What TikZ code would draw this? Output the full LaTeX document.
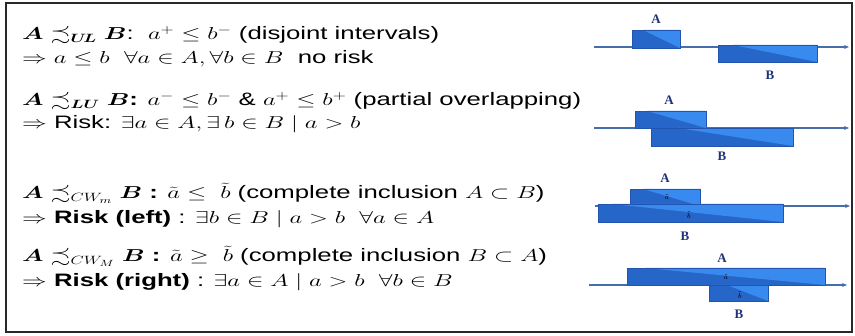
\documentclass[tikz,border=0pt]{standalone}
\usepackage{amsmath,amssymb,bm}
\usepackage{fontspec}
\setmainfont{Liberation Sans}
\newfontfamily\lserif{Liberation Serif}
\usetikzlibrary{arrows.meta}
\definecolor{boxdark}{RGB}{38,102,200}
\definecolor{boxlight}{RGB}{56,138,238}
\definecolor{boxedge}{RGB}{35,85,175}
\definecolor{axiscol}{RGB}{70,110,170}
\definecolor{labcol}{RGB}{30,50,120}
\definecolor{frame}{RGB}{40,40,40}
\newcommand{\wide}[1]{\scalebox{1.43}[1]{#1}}
\tikzset{
  txt/.style={anchor=base west, inner sep=0pt, font=\fontsize{18}{21}\selectfont},
  axisline/.style={draw=axiscol, line width=1.1pt, -{Stealth[length=5pt,width=4pt]}},
  lab/.style={inner sep=0pt, text=labcol, font=\lserif\bfseries\fontsize{13}{13}\selectfont},
  tinylab/.style={inner sep=0pt, text=black, font=\fontsize{7}{7}\selectfont},
}
\newcommand{\ivbox}[5]{%
  \fill[boxdark] (#1,#2) rectangle (#3,#4);
  \fill[boxlight] (#5,#2) -- (#3,#2) -- (#3,#4) -- cycle;
  \draw[boxedge, line width=0.8pt] (#1,#2) rectangle (#3,#4);}
\begin{document}
\begin{tikzpicture}[x=1pt,y=-1pt]
\useasboundingbox (0,0) rectangle (855,336);
\fill[white] (0,0) rectangle (855,336);
\draw[frame, line width=1.8pt] (6,3) rectangle (852,332);

% text lines
\node[txt] (l1) at (22,40) {\wide{$\bm{A}\precsim_{\bm{U\!L}}\bm{B}$:\ \ $a^{+}\le b^{-}$ (disjoint intervals)}};
\node[txt] (l2) at (22,64) {\wide{$\Rightarrow a\le b\ \ \forall a\in A,\forall b\in B$\ \ no risk}};
\node[txt] (l3) at (22,106) {\wide{$\bm{A}\precsim_{\bm{LU}}\bm{B}$\textbf{:} $a^{-}\le b^{-}$ \& $a^{+}\le b^{+}$ (partial overlapping)}};
\node[txt] (l4) at (22,129) {\wide{$\Rightarrow$ Risk: $\exists a\in A,\exists\, b\in B\mid a>b$}};
\node[txt] (l5) at (22,199) {\wide{$\bm{A}\precsim_{CW_m}\bm{B}$ \textbf{:} $\tilde a\le\ \tilde b$ (complete inclusion $A\subset B$)}};
\node[txt] (l6) at (22,224) {\wide{$\Rightarrow$ \textbf{Risk (left)} : $\exists b\in B\mid a>b\ \ \forall a\in A$}};
\node[txt] (l7) at (22,262) {\wide{$\bm{A}\precsim_{CW_M}\bm{B}$ \textbf{:} $\tilde a\ge\ \tilde b$ (complete inclusion $B\subset A$)}};
\node[txt] (l8) at (22,287) {\wide{$\Rightarrow$ \textbf{Risk (right)} : $\exists a\in A\mid a>b\ \ \forall b\in B$}};

% diagram 1: disjoint
\coordinate (s1) at (594,47); \coordinate (e1) at (849,47);
\draw[axisline] (s1) -- (e1);
\ivbox{632}{30}{680}{48}{643}
\ivbox{718}{45}{817}{62}{733}
\node[lab] (A1) at (656,19) {A};
\node[lab] (B1) at (770,75) {B};

% diagram 2: partial overlap
\coordinate (s2) at (594,128); \coordinate (e2) at (849,128);
\draw[axisline] (s2) -- (e2);
\ivbox{635}{111}{706}{128}{647}
\ivbox{651}{128}{793}{146}{678}
\node[lab] (A2) at (669,100) {A};
\node[lab] (B2) at (722,156) {B};

% diagram 3: A inside B
\coordinate (s3) at (595,206); \coordinate (e3) at (850,206);
\draw[axisline] (s3) -- (e3);
\ivbox{630}{189}{700}{206}{643}
\ivbox{598}{204}{783}{222}{612}
\node[lab] (A3) at (665,178) {A};
\node[lab] (B3) at (685,236) {B};
\node[tinylab] (a3) at (667,197) {$\tilde a$};
\node[tinylab] (b3) at (689,215) {$\tilde b$};

% diagram 4: B inside A
\coordinate (s4) at (589,285); \coordinate (e4) at (847,285);
\draw[axisline] (s4) -- (e4);
\ivbox{627}{268}{825}{285}{645}
\ivbox{709}{285}{768}{301}{727}
\node[lab] (A4) at (722,258) {A};
\node[lab] (B4) at (739,314) {B};
\node[tinylab] (a4) at (726,277) {$\tilde a$};
\node[tinylab] (b4) at (740,295) {$\tilde b$};
\end{tikzpicture}
\end{document}
